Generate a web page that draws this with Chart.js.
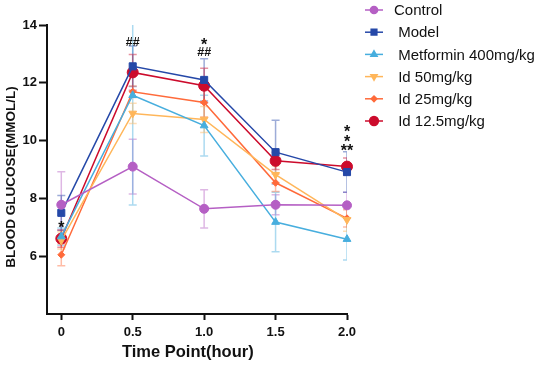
<!DOCTYPE html>
<html><head><meta charset="utf-8">
<script src="https://cdn.jsdelivr.net/npm/chart.js@4/dist/chart.umd.min.js"></script>
<style>html,body{margin:0;padding:0;background:#fff}#wrap{width:550px;height:365px}</style>
</head><body><div id="wrap"><canvas id="c" width="550" height="365"></canvas></div>
<script>
const timePoints = [0, 0.5, 1.0, 1.5, 2.0];
const xTickLabels = ['0', '0.5', '1.0', '1.5', '2.0'];
const yTickValues = [6, 8, 10, 12, 14];

const seriesNames = ['Control', ' Model', ' Metformin 400mg/kg', ' Id 50mg/kg', ' Id 25mg/kg', ' Id 12.5mg/kg'];
const controlVals   = [7.78, 9.10, 7.64, 7.78, 7.76];
const modelVals     = [7.50, 12.57, 12.10, 9.60, 8.91];
const metforminVals = [6.68, 11.57, 10.52, 7.18, 6.59];
const id50Vals      = [6.55, 10.94, 10.73, 8.82, 7.26];
const id25Vals      = [6.05, 11.69, 11.32, 8.54, 7.31];
const id125Vals     = [6.61, 12.36, 11.90, 9.30, 9.10];

const controlErr   = [1.14, 0.95, 0.66, 0.35, 0.45];
const modelErr     = [0.60, 0.70, 0.73, 1.10, 0.70];
const metforminErr = [0.30, 3.80, 1.05, 1.03, 0.72];
const id50Err      = [0.30, 0.35, 0.45, 0.30, 0.40];
const id25Err      = [0.38, 0.20, 0.50, 0.30, 0.30];
const id125Err     = [0.30, 0.62, 0.60, 0.30, 0.30];

const annX    = [0, 0.5, 1.0, 1.0, 2.0, 2.0, 2.0];
const annY    = [7.13, 13.43, 13.46, 13.08, 10.45, 10.11, 9.80];
const annText = ['*', '##', '*', '##', '*', '*', '**'];

const colors = ['#b55fc4', '#2548a8', '#47aede', '#ffb65a', '#ff6a3a', '#cc0b2c'];
const styles = ['circle', 'rect', 'triangle', 'triangle', 'rectRot', 'circle'];
const rotations = [0, 0, 0, 180, 0, 0];
const radii = [4.5, 5, 4.5, 4.5, 3.5, 5.5];
const allVals = [controlVals, modelVals, metforminVals, id50Vals, id25Vals, id125Vals];
const allErr = [controlErr, modelErr, metforminErr, id50Err, id25Err, id125Err];
const FONT = '"Liberation Sans", Arial, sans-serif';

function hexA(h, a){const r=parseInt(h.slice(1,3),16),g=parseInt(h.slice(3,5),16),b=parseInt(h.slice(5,7),16);return `rgba(${r},${g},${b},${a})`;}

const datasets = allVals.map((vals, i) => ({
  label: seriesNames[i],
  data: timePoints.map((t, j) => ({x: t, y: vals[j]})),
  errs: allErr[i],
  borderColor: colors[i],
  backgroundColor: colors[i],
  borderWidth: 1.5,
  pointStyle: styles[i],
  pointRotation: rotations[i],
  pointRadius: radii[i],
  pointBorderWidth: 1,
  tension: 0,
  showLine: true,
  clip: false
}));

const errorBars = {
  id: 'errorBars',
  beforeDatasetsDraw(chart) {
    const ctx = chart.ctx, xs = chart.scales.x, ys = chart.scales.y, a = chart.chartArea;
    ctx.save();
    ctx.beginPath(); ctx.rect(a.left, a.top, a.right - a.left, a.bottom - a.top); ctx.clip();
    chart.data.datasets.forEach(ds => {
      ctx.strokeStyle = hexA(ds.borderColor, 0.45);
      ctx.lineWidth = 1.5;
      ds.data.forEach((p, j) => {
        const e = ds.errs[j];
        const x = xs.getPixelForValue(p.x);
        const yt = ys.getPixelForValue(p.y + e), yb = ys.getPixelForValue(p.y - e);
        ctx.beginPath();
        ctx.moveTo(x, yt); ctx.lineTo(x, yb);
        ctx.moveTo(x - 4, yt); ctx.lineTo(x + 4, yt);
        ctx.moveTo(x - 4, yb); ctx.lineTo(x + 4, yb);
        ctx.stroke();
      });
    });
    ctx.restore();
  }
};

const annotations = {
  id: 'annotations',
  afterDatasetsDraw(chart) {
    const ctx = chart.ctx, xs = chart.scales.x, ys = chart.scales.y;
    ctx.save();
    ctx.fillStyle = '#111';
    ctx.textAlign = 'center'; ctx.textBaseline = 'alphabetic';
    annText.forEach((t, i) => {
      const star = t.indexOf('*') >= 0;
      const size = star ? 16 : 12.5;
      ctx.font = 'bold ' + size + 'px ' + FONT;
      const off = size * (star ? 0.575 : 0.36);
      ctx.fillText(t, xs.getPixelForValue(annX[i]), ys.getPixelForValue(annY[i]) + off);
    });
    ctx.restore();
  }
};

const customLegend = {
  id: 'customLegend',
  afterDraw(chart) {
    const ctx = chart.ctx;
    ctx.save();
    ctx.font = '15px ' + FONT;
    ctx.textBaseline = 'middle'; ctx.textAlign = 'left';
    chart.data.datasets.forEach((ds, i) => {
      const y = 10 + i * 22.2;
      ctx.strokeStyle = ds.borderColor; ctx.lineWidth = 1.5;
      ctx.beginPath(); ctx.moveTo(365, y); ctx.lineTo(383, y); ctx.stroke();
      ctx.fillStyle = ds.borderColor;
      Chart.helpers.drawPoint(ctx, {pointStyle: ds.pointStyle, rotation: ds.pointRotation, radius: ds.pointRadius * 0.8, borderWidth: 1}, 374, y);
      ctx.fillStyle = '#111';
      ctx.fillText(ds.label, 394, y + 1);
    });
    ctx.restore();
  }
};

new Chart(document.getElementById('c'), {
  type: 'line',
  data: { datasets },
  options: {
    responsive: false,
    animation: false,
    layout: { padding: { left: 0, right: 203, top: 25, bottom: 0 } },
    plugins: { legend: { display: false }, tooltip: { enabled: false } },
    scales: {
      x: {
        type: 'linear', min: -0.1, max: 2.0,
        afterBuildTicks(s) { s.ticks = timePoints.map(v => ({value: v})); },
        afterFit(s) { s.height = 51; },
        ticks: {
          callback(v) { const i = timePoints.indexOf(v); return i >= 0 ? xTickLabels[i] : ''; },
          color: '#111', font: { family: FONT, size: 13, weight: 'bold' },
          padding: 5, maxRotation: 0
        },
        grid: { drawOnChartArea: false, tickLength: 6, color: '#111', tickWidth: 2 },
        border: { color: '#111', width: 2 },
        title: { display: true, text: 'Time Point(hour)    ', color: '#111',
          font: { family: FONT, size: 16.5, weight: 'bold' }, padding: { top: 0, bottom: 3 } }
      },
      y: {
        type: 'linear', min: 4, max: 14,
        afterBuildTicks(s) { s.ticks = yTickValues.map(v => ({value: v})); },
        afterFit(s) { s.width = 47; },
        ticks: { color: '#111', font: { family: FONT, size: 13, weight: 'bold' }, padding: 2 },
        grid: { drawOnChartArea: false, tickLength: 8, color: '#111', tickWidth: 2 },
        border: { color: '#111', width: 2 },
        title: { display: true, text: 'BLOOD GLUCOSE(MMOL/L)    ', color: '#111',
          font: { family: FONT, size: 13.5, weight: 'bold' }, padding: { top: 3, bottom: 0 } }
      }
    }
  },
  plugins: [errorBars, annotations, customLegend]
});
</script></body></html>
